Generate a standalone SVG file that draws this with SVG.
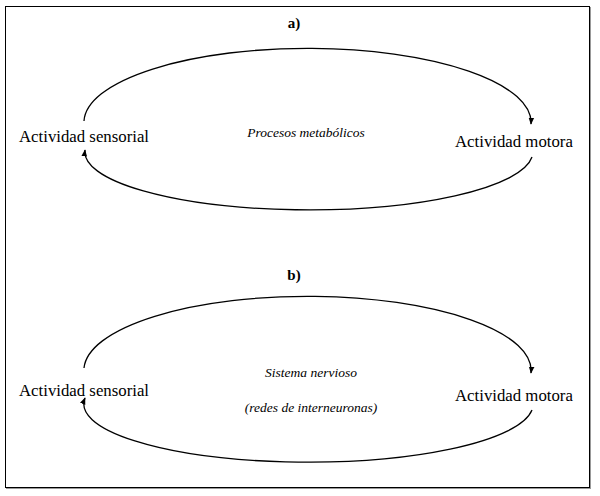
<svg xmlns="http://www.w3.org/2000/svg" width="600" height="496" viewBox="0 0 600 496">
<style>
.t{font-family:"Liberation Serif","DejaVu Serif",serif;font-size:16.8px;fill:#000}
.i{font-family:"Liberation Serif","DejaVu Serif",serif;font-size:13.5px;font-style:italic;fill:#000}
.h{font-family:"Liberation Serif","DejaVu Serif",serif;font-size:15px;font-weight:bold;fill:#000}
.c{fill:none;stroke:#000;stroke-width:1.3}
</style>
<defs>
<marker id="ah" viewBox="0 0 10 10" refX="9" refY="5" markerWidth="7" markerHeight="7" orient="auto" markerUnits="userSpaceOnUse">
<path d="M0,1 L10,5 L0,9 Z" fill="#000"/>
</marker>
</defs>
<rect x="5.5" y="6.5" width="584" height="481" fill="#fff" stroke="#000" stroke-width="1"/>
<line x1="590.5" y1="7" x2="590.5" y2="488" stroke="#999" stroke-width="1"/>
<line x1="6" y1="488.5" x2="591" y2="488.5" stroke="#999" stroke-width="1"/>
<g id="label-a"><text class="h" x="294" y="28" text-anchor="middle">a)</text></g>
<g id="label-b"><text class="h" x="294" y="280" text-anchor="middle">b)</text></g>
<g id="sensorial-a"><text class="t" x="19" y="142">Actividad sensorial</text></g>
<g id="motora-a"><text class="t" x="455" y="147">Actividad motora</text></g>
<g id="procesos"><text class="i" x="306" y="137" text-anchor="middle">Procesos metabólicos</text></g>
<g id="sensorial-b"><text class="t" x="19" y="396">Actividad sensorial</text></g>
<g id="motora-b"><text class="t" x="455" y="401">Actividad motora</text></g>
<g id="sistema"><text class="i" x="311" y="377" text-anchor="middle">Sistema nervioso</text>
<text class="i" x="311" y="412" text-anchor="middle">(redes de interneuronas)</text></g>
<g id="connectors">
<path class="c" d="M84,121 A223,74 0 0 1 531,124" marker-end="url(#ah)"/>
<path class="c" d="M532,157 A224,58 0 0 1 85,150" marker-end="url(#ah)"/>
<path class="c" d="M84,368 A223,74 0 0 1 531,373" marker-end="url(#ah)"/>
<path class="c" d="M532,410 A224,58 0 0 1 85,398" marker-end="url(#ah)"/>
</g>
</svg>
